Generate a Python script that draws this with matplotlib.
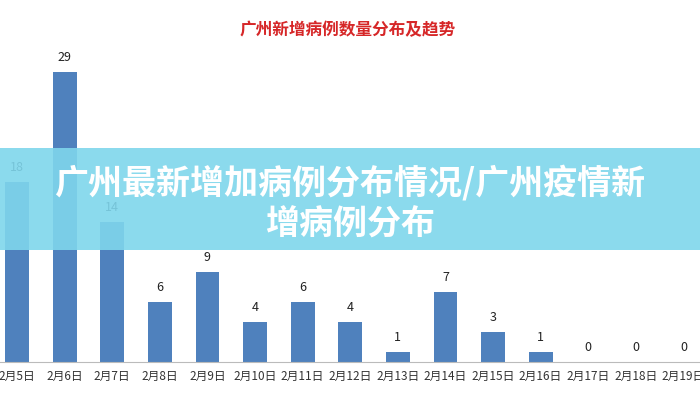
import matplotlib
matplotlib.use("Agg")
import matplotlib.pyplot as plt
from matplotlib.patches import Rectangle

plt.rcParams['font.family'] = ['Noto Sans CJK SC', 'DejaVu Sans']

categories = ["2月5日","2月6日","2月7日","2月8日","2月9日","2月10日","2月11日","2月12日",
              "2月13日","2月14日","2月15日","2月16日","2月17日","2月18日","2月19日"]
values = [18, 29, 14, 6, 9, 4, 6, 4, 1, 7, 3, 1, 0, 0, 0]

fig = plt.figure(figsize=(7, 4), dpi=100)
ax = fig.add_axes([0, 38/400, 1, 362/400])
x = list(range(len(categories)))
ax.bar(x, values, width=0.5, color="#4f81bd")
for xi, v in zip(x, values):
    ax.text(xi, v + 0.8, str(v), ha="center", va="bottom", fontsize=9, color="#222222")
ax.set_xlim(-17/47.6, (700-17)/47.6)
ax.set_ylim(0, 36.2)
ax.set_xticks(x)
ax.set_xticklabels(categories, fontsize=8.5, color="#333333")
ax.set_yticks([])
for s in ["top", "right", "left"]:
    ax.spines[s].set_visible(False)
ax.spines["bottom"].set_color("#bbbbbb")
ax.tick_params(axis="x", length=0, pad=6)

fig.text(0.497, 0.925, "广州新增病例数量分布及趋势", ha="center", va="center",
         fontsize=12, fontweight="bold", color="#d62728")

fig.patches.append(Rectangle((0, 1-250/400), 1, 102/400, transform=fig.transFigure,
                             facecolor="#7fd6ec", alpha=0.9, edgecolor="none", zorder=5))
fig.text(0.5, 1-183/400, "广州最新增加病例分布情况/广州疫情新", ha="center", va="center",
         fontsize=24.5, fontweight="bold", color="white", zorder=6)
fig.text(0.5, 1-224/400, "增病例分布", ha="center", va="center",
         fontsize=24.5, fontweight="bold", color="white", zorder=6)

fig.savefig("out.png", dpi=100)
